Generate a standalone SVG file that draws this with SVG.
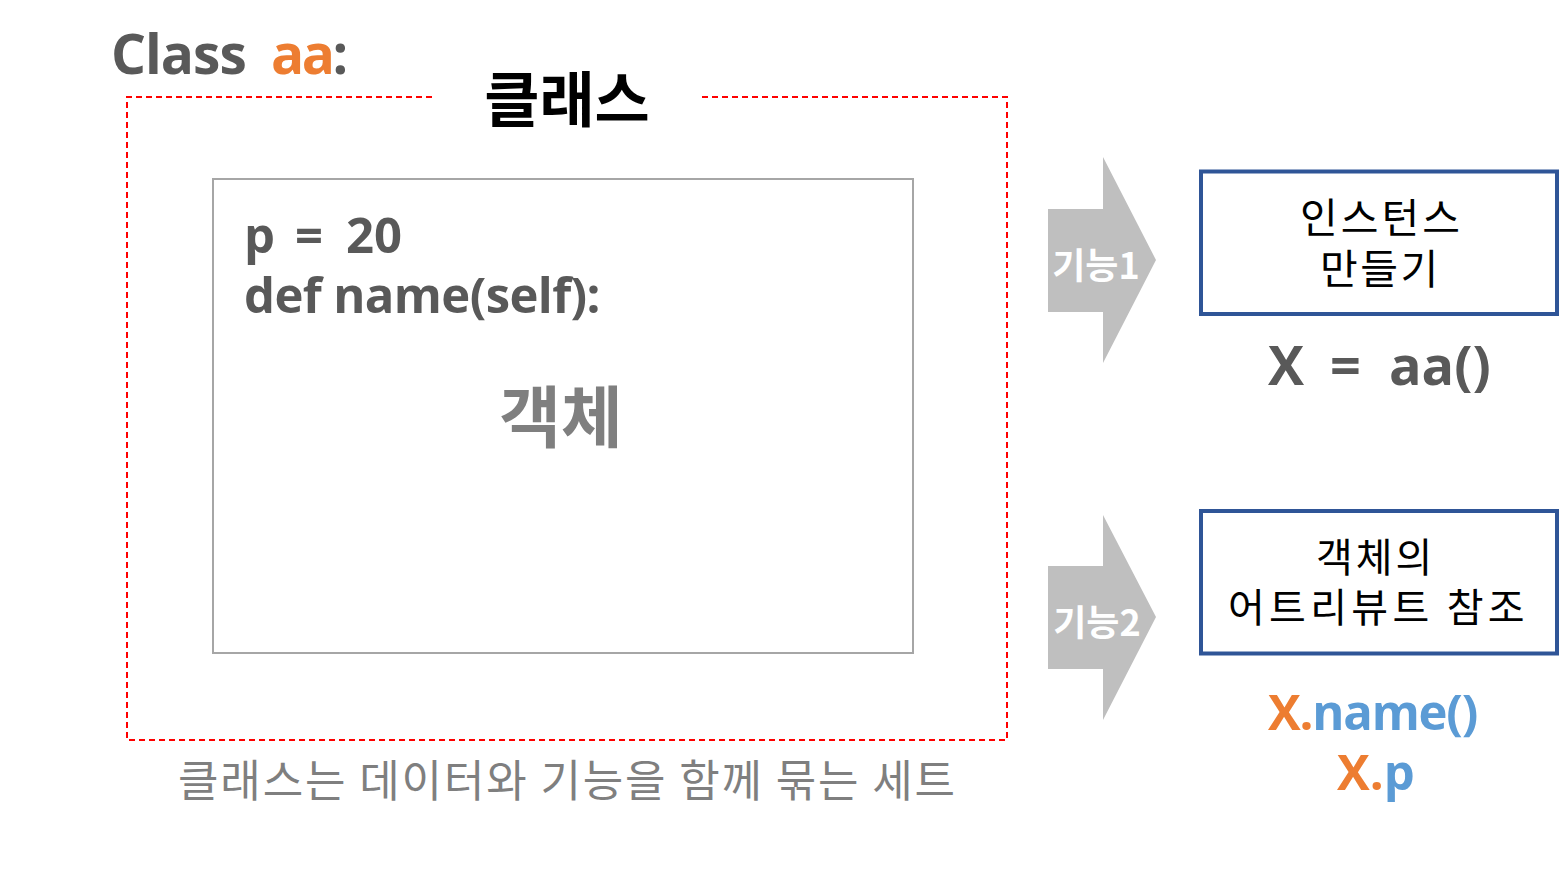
<svg xmlns="http://www.w3.org/2000/svg" width="1561" height="871" viewBox="0 0 1561 871">
<style>
.lat{font-family:'Open Sans','Noto Sans CJK KR',sans-serif;font-weight:700}
.kr{font-family:'Noto Sans CJK KR','Noto Sans',sans-serif}
.gray{fill:#595959}
.orange{fill:#ed7d31}
.blue{fill:#5b9bd5}
.box{fill:#ffffff;stroke:#2f5597;stroke-width:4}
.arrow{fill:#bfbfbf}
.arrowlbl{font-family:'Noto Sans CJK KR',sans-serif;font-weight:700;font-size:36px;fill:#ffffff}
</style>
<rect x="0" y="0" width="1561" height="871" fill="#ffffff"/>

<g id="class-header">
  <text class="lat gray" y="74" font-size="55" letter-spacing="-1"><tspan x="111">Class</tspan><tspan x="271" class="orange" letter-spacing="-2.5">aa</tspan><tspan class="gray">:</tspan></text>
</g>

<g id="class-frame">
  <path d="M432,97 H127 V740 H1007 V97 H702" fill="none" stroke="#ff0000" stroke-width="2" stroke-dasharray="6 4"/>
  <text class="kr" x="567" y="122" font-size="60" font-weight="700" text-anchor="middle" fill="#000000">클래스</text>
</g>

<g id="object-box">
  <rect x="213" y="179" width="700" height="474" fill="#ffffff" stroke="#a6a6a6" stroke-width="2"/>
  <text class="lat gray" font-size="49"><tspan x="244" y="253">p</tspan><tspan x="295" y="253">=</tspan><tspan x="346" y="253">20</tspan><tspan x="244" y="313" letter-spacing="-0.6">def name(self):</tspan></text>
  <text class="kr" x="561" y="442" font-size="67" font-weight="700" text-anchor="middle" fill="#7f7f7f">객체</text>
</g>

<g id="caption">
  <text class="kr" x="178" y="797" font-size="44" fill="#7f7f7f" textLength="777" lengthAdjust="spacing">클래스는 데이터와 기능을 함께 묶는 세트</text>
</g>

<g id="connectors">
  <g id="arrow1">
    <polygon class="arrow" points="1048,209 1103,209 1103,157 1156,260 1103,363 1103,312 1048,312"/>
    <text class="arrowlbl" x="1096" y="279" text-anchor="middle">기능1</text>
  </g>
  <g id="arrow2">
    <polygon class="arrow" points="1048,566 1103,566 1103,515 1156,617 1103,720 1103,669 1048,669"/>
    <text class="arrowlbl" x="1097" y="636" text-anchor="middle">기능2</text>
  </g>
</g>

<g id="instance-node">
  <rect class="box" x="1201" y="171.5" width="356" height="142.5"/>
  <text class="kr" font-size="41" fill="#000000"><tspan x="1300" y="233" letter-spacing="3">인스턴스</tspan><tspan x="1320" y="284" letter-spacing="2.5">만들기</tspan></text>
  <text class="lat gray" y="385" font-size="54"><tspan x="1268">X</tspan><tspan x="1330">=</tspan><tspan x="1389">aa()</tspan></text>
</g>

<g id="attribute-node">
  <rect class="box" x="1201" y="511" width="356" height="142.5"/>
  <text class="kr" font-size="40" fill="#000000"><tspan x="1316" y="572" letter-spacing="3">객체의</tspan><tspan x="1228" y="622" letter-spacing="4.3">어트리뷰트 참조</tspan></text>
  <text class="lat" font-size="49"><tspan x="1268" y="730" class="orange" letter-spacing="-1.2">X.</tspan><tspan class="blue" letter-spacing="-1.2">name()</tspan><tspan x="1337" y="790" class="orange">X.</tspan><tspan class="blue">p</tspan></text>
</g>
</svg>
